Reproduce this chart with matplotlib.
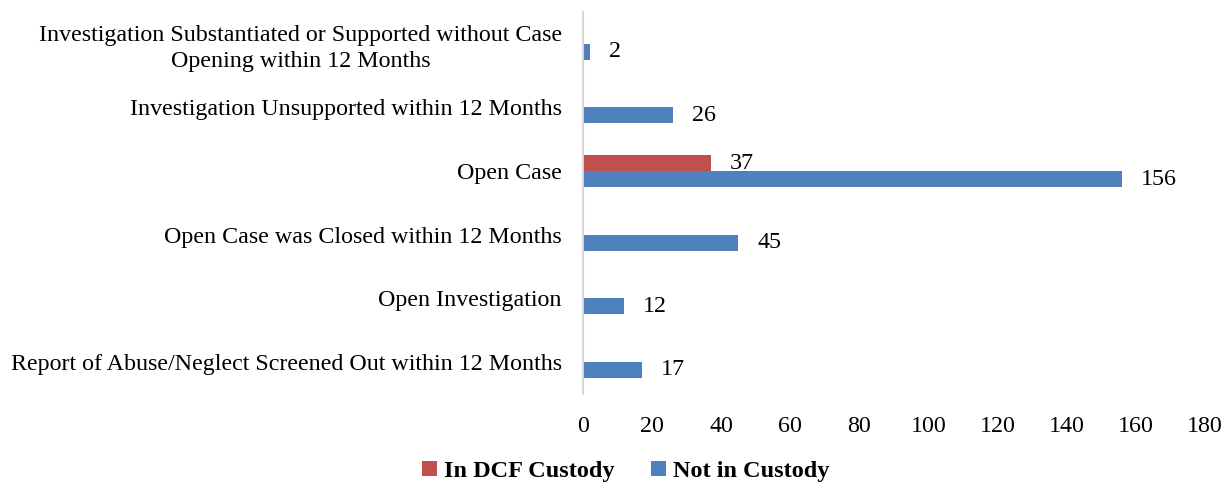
import numpy as np
import matplotlib.pyplot as plt

categories = [
    "Investigation Substantiated or Supported without Case\nOpening within 12 Months",
    "Investigation Unsupported within 12 Months",
    "Open Case",
    "Open Case was Closed within 12 Months",
    "Open Investigation",
    "Report of Abuse/Neglect Screened Out within 12 Months",
]
in_custody = [0, 0, 37, 0, 0, 0]
not_in_custody = [2, 26, 156, 45, 12, 17]
xticks = [0, 20, 40, 60, 80, 100, 120, 140, 160, 180]

plt.rcParams["font.family"] = ["Liberation Serif", "DejaVu Serif"]

fig = plt.figure(figsize=(12.27, 4.82), dpi=100)
ax = fig.add_axes([0.475, 0.183, 0.507, 0.792])

y = np.arange(len(categories))
h = 0.25
red = "#C0504D"
blue = "#4F81BD"
ax.barh(y - h / 2, in_custody, height=h, color=red, label="In DCF Custody")
ax.barh(y + h / 2, not_in_custody, height=h, color=blue, label="Not in Custody")

for yi, v in zip(y, in_custody):
    if v > 0:
        ax.text(v + 5.5, yi - h / 2, str(v), va="center", ha="left", fontsize=17.3)
for yi, v in zip(y, not_in_custody):
    ax.text(v + 5.5, yi + h / 2, str(v), va="center", ha="left", fontsize=17.3)

ax.set_ylim(len(categories) - 0.5, -0.5)
ax.set_xlim(0, 180)
ax.set_xticks(xticks)
ax.set_yticks(y)
ax.set_yticklabels(categories, fontsize=17.3, multialignment="center", linespacing=1.3)
ax.tick_params(axis="y", length=0, pad=15)
ax.tick_params(axis="x", length=0, labelsize=17.3, pad=16)
for s in ["top", "right", "bottom"]:
    ax.spines[s].set_visible(False)
ax.spines["left"].set_color("#D9D9D9")
ax.spines["left"].set_linewidth(1.5)

fig.legend(loc="lower center", ncol=2, frameon=False, bbox_to_anchor=(0.51, -0.045),
           prop={"size": 17.5, "weight": "bold"}, handlelength=0.6, handleheight=0.6,
           columnspacing=1.5, handletextpad=0.3)

fig.savefig("out.png", dpi=100)
